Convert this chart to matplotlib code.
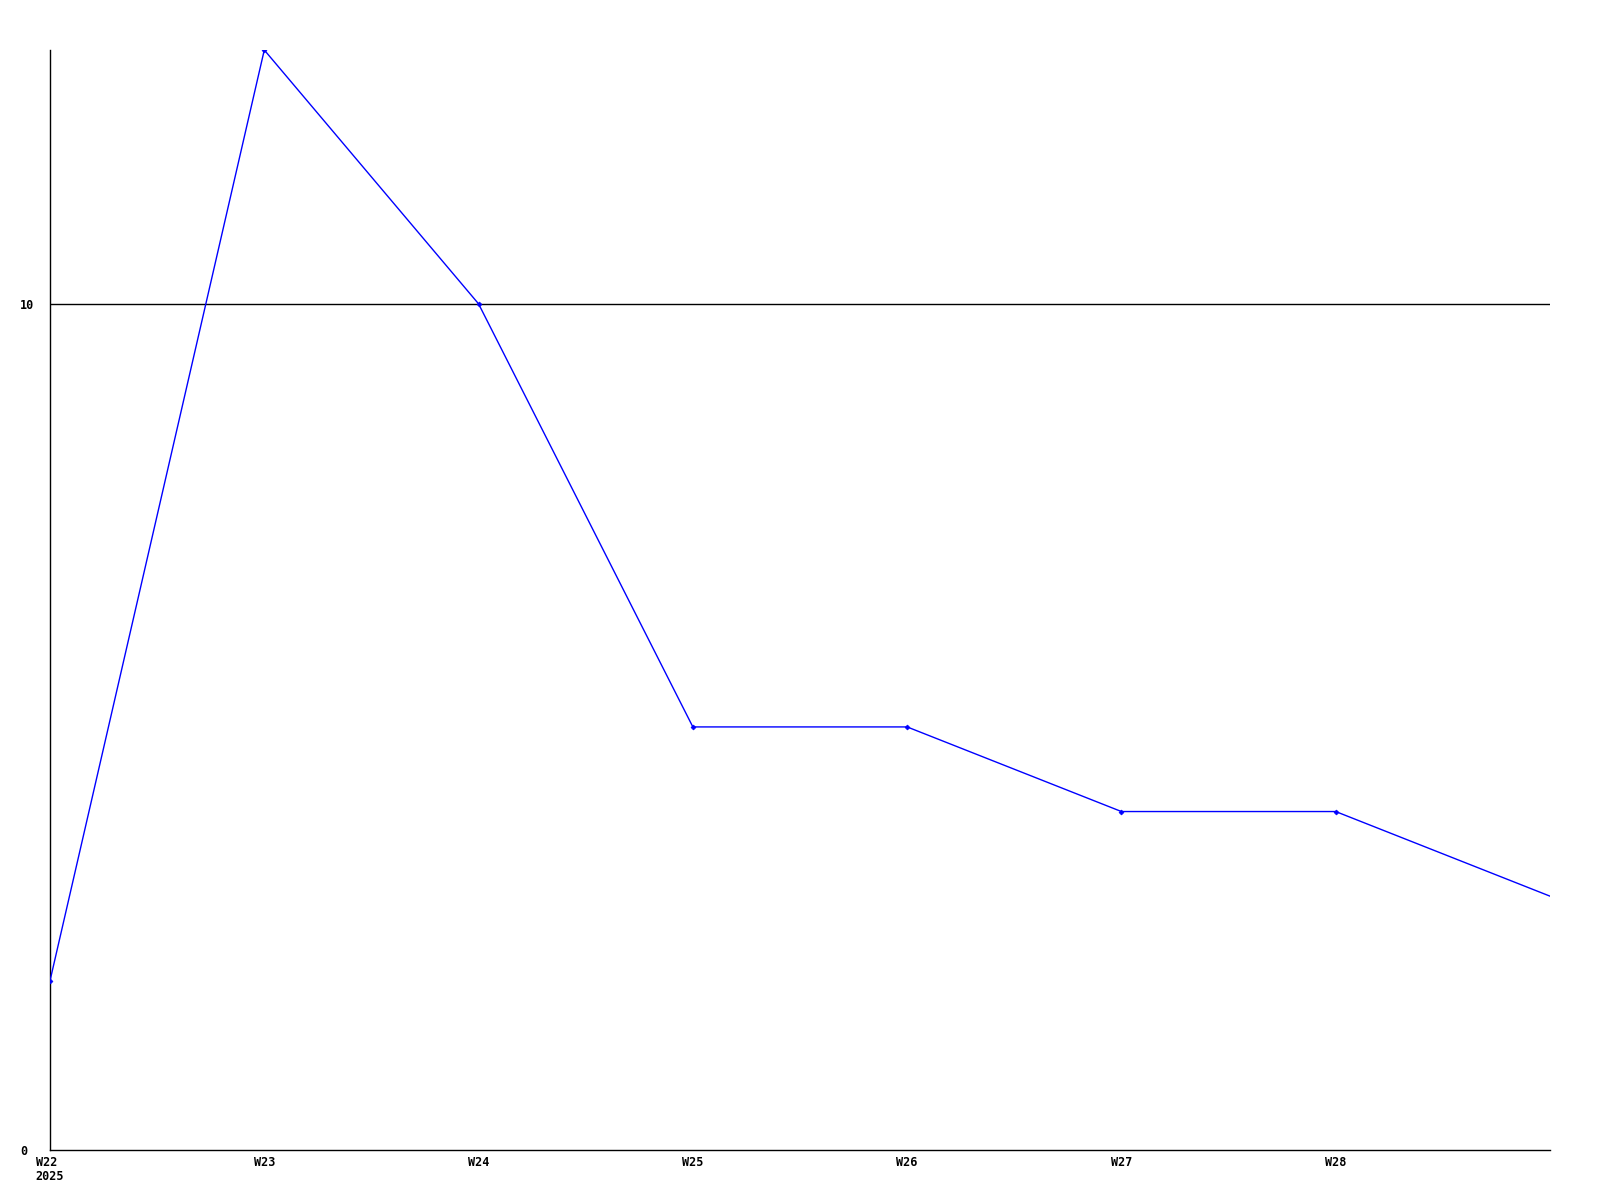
import matplotlib
matplotlib.use("Agg")
from matplotlib import pyplot as plt

weeks = ["W22\n2025", "W23", "W24", "W25", "W26", "W27", "W28", "W29"]
values = [2, 13, 10, 5, 5, 4, 4, 3]
tick_labels = ["W22\n2025", "W23", "W24", "W25", "W26", "W27", "W28"]

x = list(range(len(weeks)))

fig = plt.figure(figsize=(16, 12), dpi=100)
ax = fig.add_axes([50/1600, 50/1200, 1500/1600, 1100/1200])

ax.plot(x, values, color="#0000ff", linewidth=1.0, marker="D", markersize=2.5,
        markeredgewidth=0.5, markevery=list(range(len(x) - 1)), zorder=3)
ax.axhline(10, color="black", linewidth=1.0, zorder=2)

ax.set_xlim(0, 7)
ax.set_ylim(0, 13)
ax.set_xticks(x[:-1])
ax.set_xticklabels(tick_labels, linespacing=1.15)
ax.set_yticks([0, 10])
ax.set_yticklabels(["0", "10"])

for s in ["top", "right"]:
    ax.spines[s].set_visible(False)
for s in ["left", "bottom"]:
    ax.spines[s].set_linewidth(1.0)

ax.tick_params(length=0, labelsize=8.5)
ax.tick_params(axis="x", pad=4)
ax.tick_params(axis="y", pad=21.5)
for t in ax.get_xticklabels() + ax.get_yticklabels():
    t.set_fontfamily("DejaVu Sans Mono")
    t.set_fontweight("bold")
for t in ax.get_xticklabels():
    t.set_horizontalalignment("center")
    t.set_multialignment("left")
for t in ax.get_yticklabels():
    t.set_horizontalalignment("left")

fig.savefig("out.png", dpi=100, facecolor="white")
